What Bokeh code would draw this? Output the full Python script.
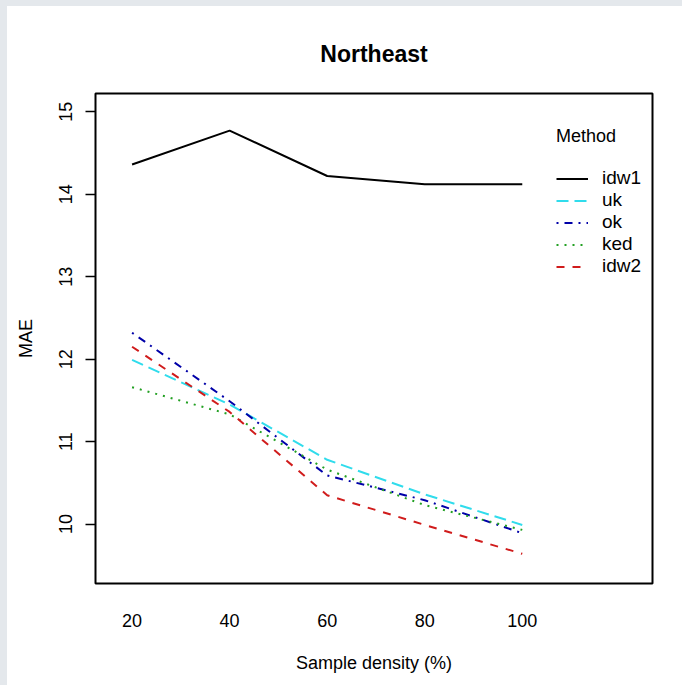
from bokeh.plotting import figure
from bokeh.models import Range1d, Legend, LegendItem, FixedTicker
from bokeh.embed import file_html
from bokeh.resources import INLINE

# MAE by sample density for each interpolation method (Northeast region)
density = [20, 40, 60, 80, 100]
idw1 = [14.36, 14.77, 14.22, 14.12, 14.12]
uk = [11.99, 11.45, 10.78, 10.36, 9.99]
ok = [12.32, 11.49, 10.59, 10.29, 9.89]
ked = [11.66, 11.33, 10.66, 10.23, 9.93]
idw2 = [12.15, 11.36, 10.35, 9.99, 9.64]

methods = ["idw1", "uk", "ok", "ked", "idw2"]
series = [idw1, uk, ok, ked, idw2]
x_ticks = [20, 40, 60, 80, 100]
y_ticks = [10, 11, 12, 13, 14, 15]

colors = ["#000000", "#30dcec", "#0000a8", "#22a022", "#d01c1c"]
dashes = ["solid", "12 6", "2 6 8 6", "2 6", "8 8"]

FONT = "Liberation Sans"
# grey frame on the top and left edges of the page
EDGE_L, EDGE_T = 7, 6
W, H = 689 - EDGE_L, 691 - EDGE_T

p = figure(width=W, height=H, output_backend="svg", toolbar_location=None,
           x_range=Range1d(12.5, 126.7), y_range=Range1d(9.28, 15.22),
           min_border_left=95 - EDGE_L, min_border_right=37,
           min_border_top=93 - EDGE_T, min_border_bottom=108,
           title="Northeast")
p.styles = {"border-left": f"{EDGE_L}px solid #e4e8ec",
            "border-top": f"{EDGE_T}px solid #e4e8ec"}

p.background_fill_color = "white"
p.border_fill_color = "white"
p.outline_line_color = "black"
p.outline_line_width = 2
p.xgrid.visible = False
p.ygrid.visible = False

p.title.align = "center"
p.title.text_font = FONT
p.title.text_font_size = "23px"
p.title.text_font_style = "bold"
p.title.text_color = "black"
p.title.standoff = 54

# x axis: labels only, no ticks or line
xa = p.xaxis[0]
xa.ticker = FixedTicker(ticks=x_ticks)
xa.axis_line_color = None
xa.major_tick_line_color = None
xa.minor_tick_line_color = None
xa.major_tick_out = 0
xa.major_tick_in = 0
xa.major_label_standoff = 30
xa.major_label_text_font = FONT
xa.major_label_text_font_size = "18px"
xa.major_label_text_color = "black"
xa.axis_label = "Sample density (%)"
xa.axis_label_text_font = FONT
xa.axis_label_text_font_size = "18px"
xa.axis_label_text_font_style = "normal"
xa.axis_label_text_color = "black"
xa.axis_label_standoff = 23

ya = p.yaxis[0]
ya.ticker = FixedTicker(ticks=y_ticks)
ya.axis_line_color = None
ya.minor_tick_line_color = None
ya.major_tick_line_color = "black"
ya.major_tick_line_width = 1.5
ya.major_tick_out = 10
ya.major_tick_in = 0
ya.major_label_orientation = "vertical"
ya.major_label_standoff = 13
ya.major_label_text_font = FONT
ya.major_label_text_font_size = "18px"
ya.major_label_text_color = "black"
ya.axis_label = "MAE"
ya.axis_label_text_font = FONT
ya.axis_label_text_font_size = "18px"
ya.axis_label_text_font_style = "normal"
ya.axis_label_text_color = "black"
ya.axis_label_standoff = 21

items = []
for name, vals, c, d in zip(methods, series, colors, dashes):
    r = p.line(density, vals, line_color=c, line_width=2, line_dash=d)
    items.append(LegendItem(label=name, renderers=[r]))

legend = Legend(items=items, location=(461, 306), title="Method",
                title_text_font=FONT, title_text_font_size="18px",
                title_text_font_style="normal", title_text_color="black",
                title_standoff=20,
                label_text_font=FONT, label_text_font_size="19px",
                label_text_color="black",
                glyph_width=32, glyph_height=19, label_height=19,
                label_standoff=14, spacing=0, padding=0, margin=0,
                border_line_color=None, background_fill_alpha=0)
p.add_layout(legend)

open("out.html", "w").write(file_html(p, INLINE))
